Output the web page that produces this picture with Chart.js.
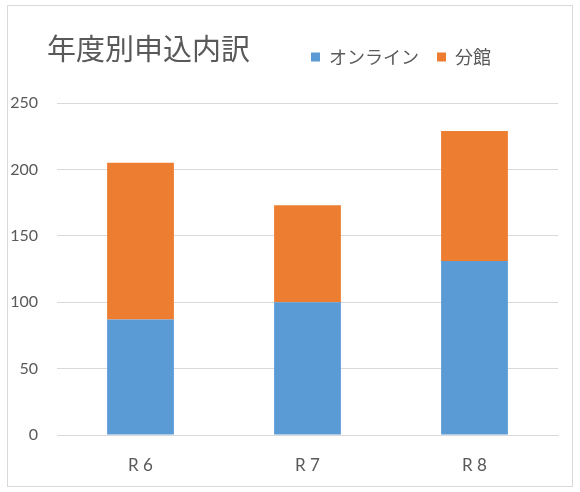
<!DOCTYPE html>
<html>
<head>
<meta charset="utf-8">
<script src="https://cdn.jsdelivr.net/npm/chart.js@4.4.0/dist/chart.umd.min.js"></script>
<style>
  html, body { margin: 0; padding: 0; background: #ffffff; }
  #wrap { position: relative; width: 580px; height: 492px; }
  #frame { position: absolute; left: 7px; top: 5px; width: 564px; height: 480px; border: 1px solid #d9d9d9; pointer-events: none; }
  #title { position: absolute; left: 47px; top: 27px; font-family: "Noto Sans CJK JP", sans-serif; font-size: 29px; line-height: 40px; color: #595959; white-space: nowrap; }
</style>
</head>
<body>
<div id="wrap">
  <canvas id="c" width="580" height="492"></canvas>
  <div id="frame"></div>
  <div id="title">年度別申込内訳</div>
</div>
<script>
const categories = ['R 6', 'R 7', 'R 8'];
const onlineValues = [87, 100, 131];
const branchValues = [118, 73, 98];
const seriesNames = ['オンライン', '分館'];
const yTicks = [0, 50, 100, 150, 200, 250];

const legendTweak = {
  id: 'legendTweak',
  beforeInit(chart) {
    const legend = chart.legend;
    const origFit = legend.fit;
    legend.fit = function () {
      origFit.call(this);
      this.height += 27;
    };
  },
  afterLayout(chart) {
    const legend = chart.legend;
    const shift = 401 - (legend.left + legend.right) / 2;
    legend.left += shift;
    legend.right += shift;
  }
};

new Chart(document.getElementById('c'), {
  type: 'bar',
  data: {
    labels: categories,
    datasets: [
      { label: seriesNames[0], data: onlineValues, backgroundColor: '#5B9BD5', barPercentage: 0.4, categoryPercentage: 1 },
      { label: seriesNames[1], data: branchValues, backgroundColor: '#ED7D31', barPercentage: 0.4, categoryPercentage: 1 }
    ]
  },
  plugins: [legendTweak],
  options: {
    responsive: false,
    animation: false,
    devicePixelRatio: 1,
    layout: { padding: { left: 10, right: 22, top: 30, bottom: 18 } },
    plugins: {
      title: { display: false },
      tooltip: { enabled: false },
      legend: {
        position: 'top',
        align: 'center',
        labels: {
          boxWidth: 9,
          boxHeight: 9,
          padding: 18,
          color: '#595959',
          font: { family: '"Noto Sans CJK JP", sans-serif', size: 18 }
        }
      }
    },
    scales: {
      x: {
        stacked: true,
        afterFit(axis) { axis.height = 39; },
        grid: { display: false, drawTicks: false },
        border: { display: true, color: '#d9d9d9', width: 1 },
        ticks: { color: '#595959', padding: 20, font: { family: 'Lato, sans-serif', size: 17 } }
      },
      y: {
        stacked: true,
        min: 0,
        max: 250,
        afterBuildTicks(axis) { axis.ticks = yTicks.map(v => ({ value: v })); },
        afterFit(axis) { axis.width = 47; },
        grid: { color: '#d9d9d9', lineWidth: 1, drawTicks: false },
        border: { display: false },
        ticks: { color: '#595959', padding: 19, font: { family: 'Lato, sans-serif', size: 16 } }
      }
    }
  }
});
</script>
</body>
</html>
